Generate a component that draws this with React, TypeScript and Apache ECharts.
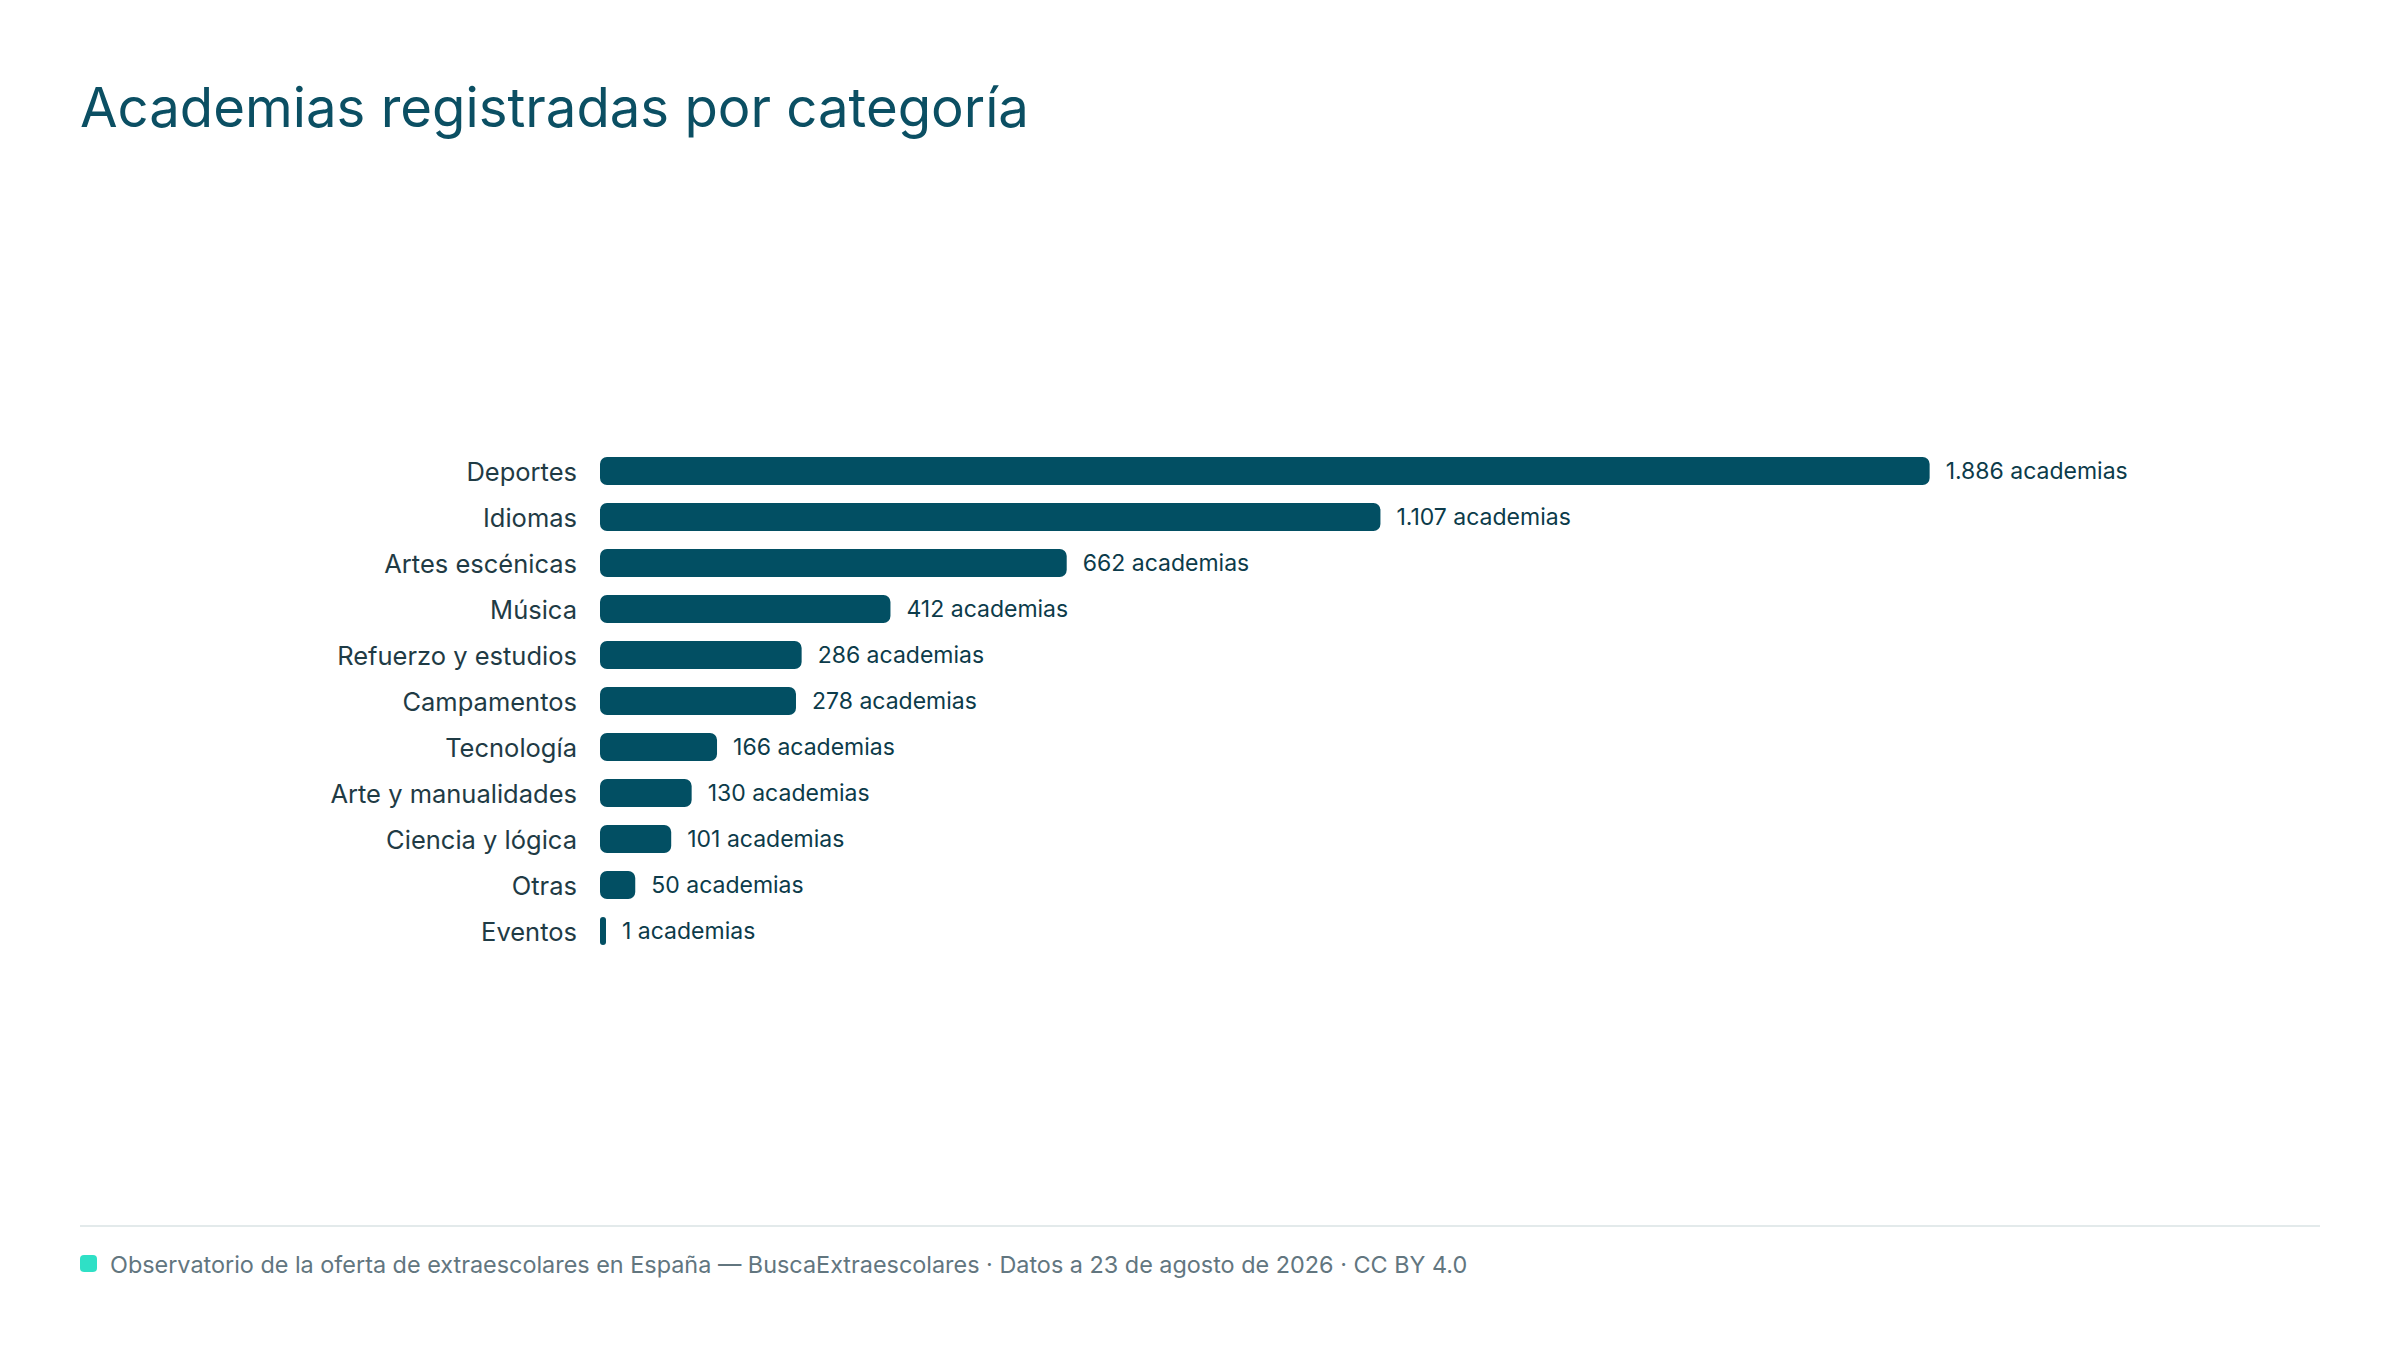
import React, { useEffect, useRef } from "react";
import * as echarts from "echarts";

const TITLE = "Academias registradas por categoría";
const FOOTER = "Observatorio de la oferta de extraescolares en España — BuscaExtraescolares · Datos a 23 de agosto de 2026 · CC BY 4.0";
const categories = [
  "Deportes",
  "Idiomas",
  "Artes escénicas",
  "Música",
  "Refuerzo y estudios",
  "Campamentos",
  "Tecnología",
  "Arte y manualidades",
  "Ciencia y lógica",
  "Otras",
  "Eventos",
];
const values = [1886, 1107, 662, 412, 286, 278, 166, 130, 101, 50, 1];
const UNIT = "academias";

const FONT = "Inter, 'Noto Sans', sans-serif";

function fmt(n: number): string {
  return String(n).replace(/\B(?=(\d{3})+(?!\d))/g, ".");
}

export default function App() {
  const ref = useRef<HTMLDivElement>(null);
  useEffect(() => {
    document.body.style.margin = "0";
    const chart = echarts.init(ref.current!, null, { renderer: "svg" });
    chart.setOption({
      animation: false,
      backgroundColor: "#ffffff",
      textStyle: { fontFamily: FONT },
      title: {
        text: TITLE,
        left: 80,
        top: 80,
        padding: 0,
        textStyle: {
          fontFamily: FONT,
          fontSize: 54.5,
          lineHeight: 54,
          fontWeight: 400,
          color: "#0b4f63",
        },
      },
      grid: { left: 600, top: 448, width: 1692, height: 506, containLabel: false },
      xAxis: {
        type: "value",
        min: 0,
        max: 2400,
        show: false,
      },
      yAxis: {
        type: "category",
        data: categories,
        inverse: true,
        axisLine: { show: false },
        axisTick: { show: false },
        splitLine: { show: false },
        axisLabel: {
          margin: 23,
          fontSize: 25.5,
          fontFamily: FONT,
          color: "#1f3b45",
        },
      },
      series: [
        {
          type: "bar",
          data: values,
          barWidth: 28,
          barMinHeight: 6,
          itemStyle: { color: "#024f63", borderRadius: 7 },
          label: {
            show: true,
            position: "right",
            distance: 16,
            fontSize: 23,
            fontFamily: FONT,
            color: "#0c3b4a",
            formatter: (p: any) => `${fmt(p.value)} ${UNIT}`,
          },
        },
      ],
      graphic: [
        {
          type: "line",
          shape: { x1: 80, y1: 1226, x2: 2320, y2: 1226 },
          style: { stroke: "#e3eaeb", lineWidth: 2 },
        },
        {
          type: "rect",
          shape: { x: 80, y: 1255, width: 17, height: 17, r: 4 },
          style: { fill: "#2fe0c6" },
        },
        {
          type: "text",
          x: 110,
          y: 1264,
          style: {
            text: FOOTER,
            fontFamily: FONT,
            fontSize: 23.4,
            fill: "#62767f",
            verticalAlign: "middle",
          },
        },
      ],
    });
    return () => chart.dispose();
  }, []);
  return (
    <div
      ref={ref}
      style={{ position: "fixed", left: 0, top: 0, width: 2400, height: 1350 }}
    />
  );
}
